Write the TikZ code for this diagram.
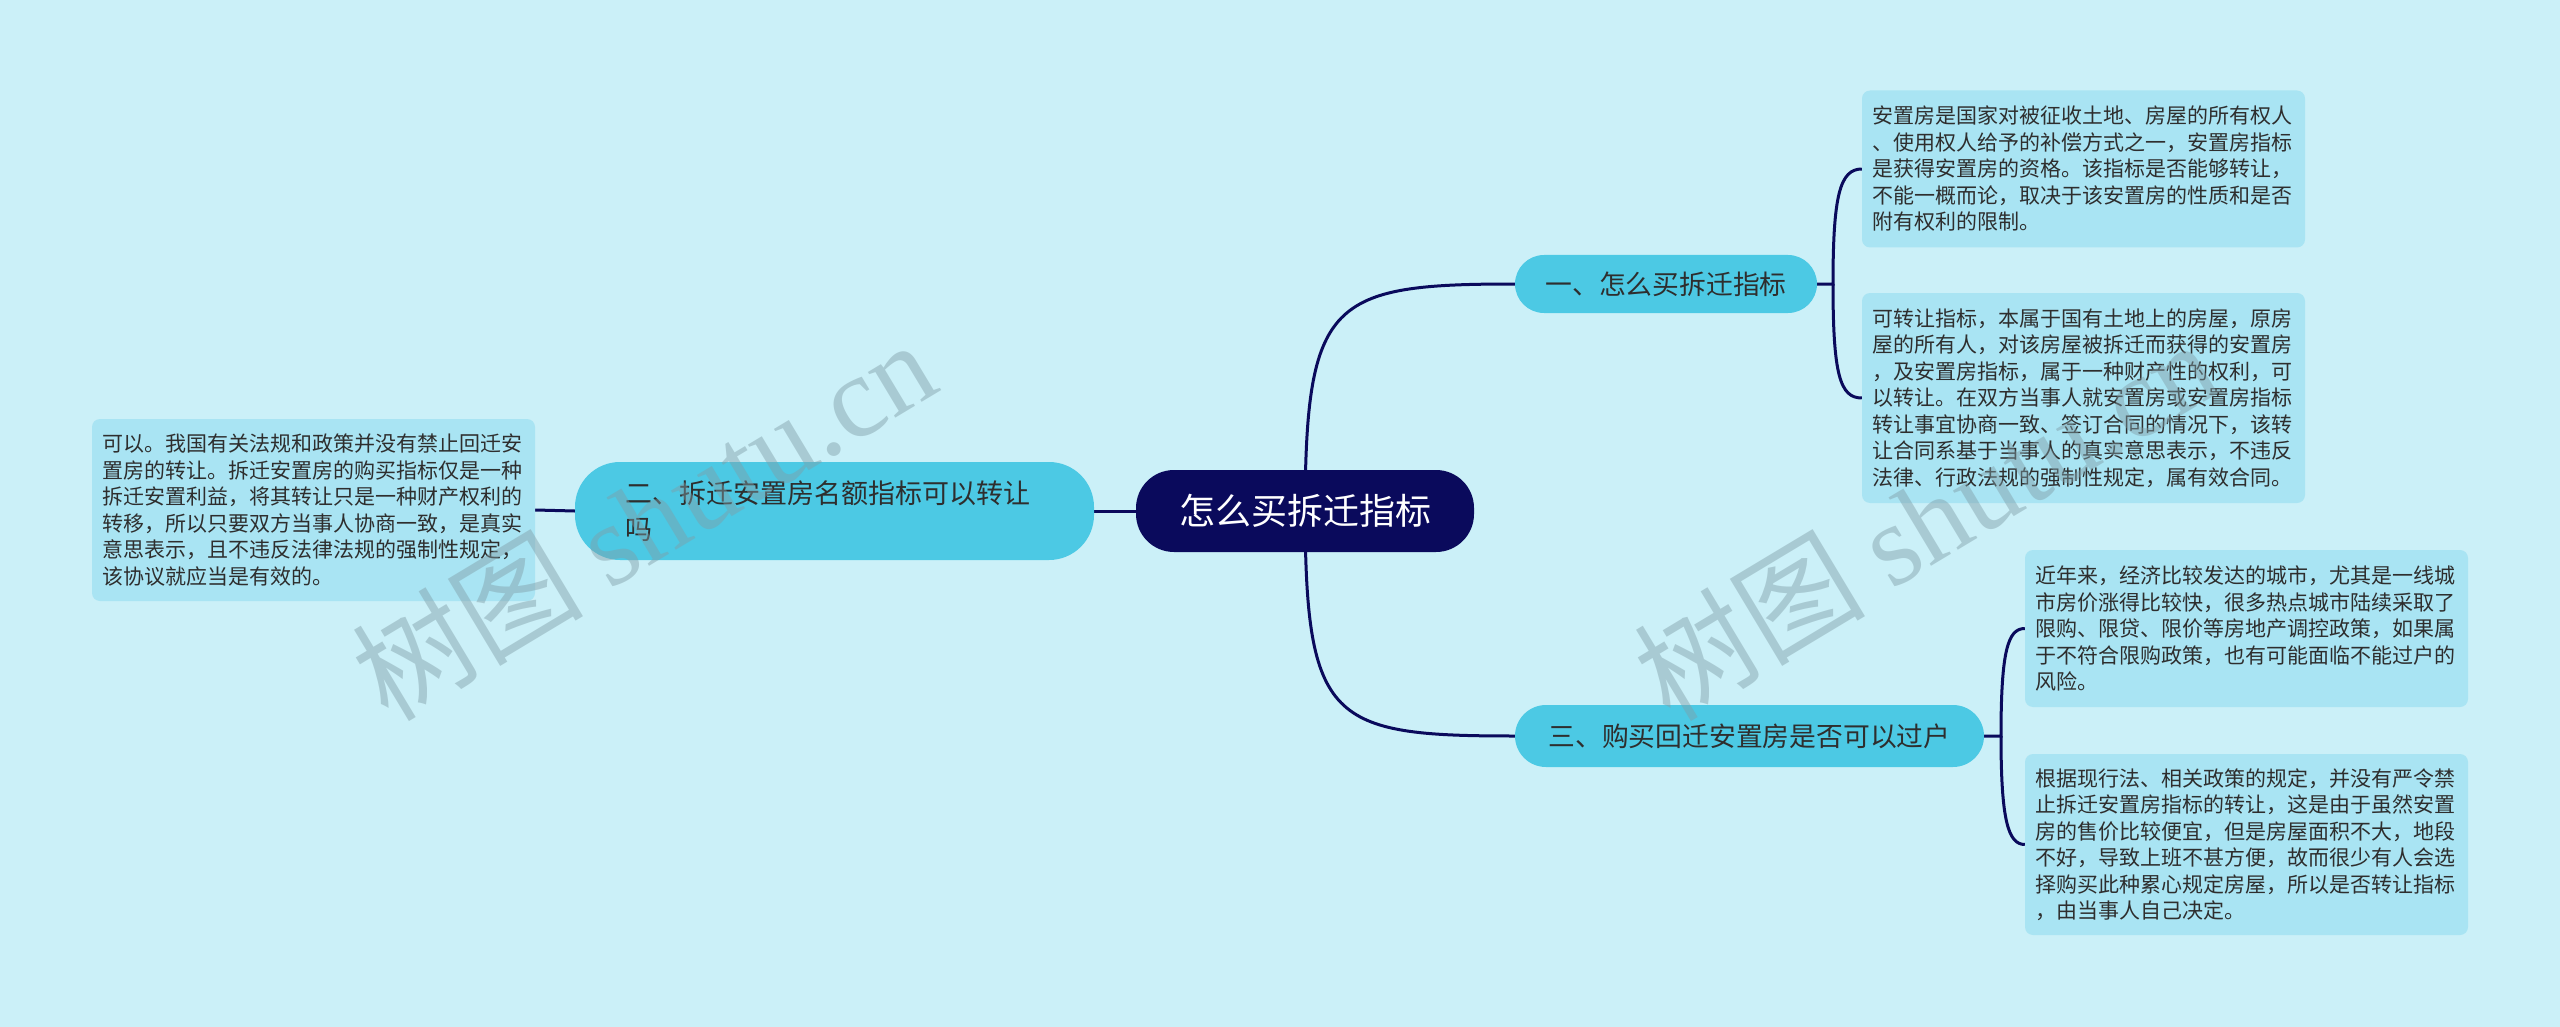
\documentclass[tikz,border=0pt]{standalone}
\usepackage{fontspec}
\setmainfont{Noto Sans CJK SC}
\newfontfamily\wmserif{Liberation Serif}
\usetikzlibrary{backgrounds}
\definecolor{bgc}{HTML}{CBF0F8}
\definecolor{branchc}{HTML}{4CC9E4}
\definecolor{leafc}{HTML}{A9E4F3}
\definecolor{navyc}{HTML}{0A0A5C}
\definecolor{txtc}{HTML}{2E2E2E}
\definecolor{wmc}{HTML}{7F9DA6}
\tikzset{
  rootbox/.style={fill=navyc, rounded corners=38pt, minimum width=338pt, minimum height=82pt,
    text=white, font=\fontsize{36pt}{42pt}\selectfont, inner sep=0pt},
  branchbox/.style={fill=branchc, rounded corners=29pt, minimum height=58pt,
    text=txtc, font=\fontsize{26.8pt}{32pt}\selectfont, inner sep=0pt},
  leafbox/.style={fill=leafc, rounded corners=8pt, text width=422pt, inner xsep=10.5pt, inner ysep=0pt,
    align=left, text=txtc, font=\fontsize{21pt}{26.5pt}\selectfont},
  conn/.style={draw=navyc, line width=3pt},
  wmark/.style={text=wmc, opacity=0.45, rotate=31, font=\fontsize{116pt}{120pt}\selectfont, inner sep=0pt}
}
\begin{document}
\begin{tikzpicture}[x=1pt,y=-1pt]
\useasboundingbox (0,0) rectangle (2560,1027);

\node[rootbox] (root) at (1305,511) {怎么买拆迁指标};
\node[branchbox, minimum width=302pt] (b1) at (1666,284) {一、怎么买拆迁指标};
\node[branchbox, minimum width=469pt, minimum height=62pt, rounded corners=31pt] (b3) at (1749.5,736) {三、购买回迁安置房是否可以过户};
\node[branchbox, minimum width=519pt, minimum height=98pt, rounded corners=45pt, text width=419pt, align=left,
  font=\fontsize{27pt}{36pt}\selectfont] (b2) at (834.5,511) {二、拆迁安置房名额指标可以转让\\吗};

\node[leafbox, minimum height=157pt] (l1) at (2083.5,169) {安置房是国家对被征收土地、房屋的所有权人\\、使用权人给予的补偿方式之一，安置房指标\\是获得安置房的资格。该指标是否能够转让，\\不能一概而论，取决于该安置房的性质和是否\\附有权利的限制。};
\node[leafbox, minimum height=210pt] (l2) at (2083.5,398) {可转让指标，本属于国有土地上的房屋，原房\\屋的所有人，对该房屋被拆迁而获得的安置房\\，及安置房指标，属于一种财产性的权利，可\\以转让。在双方当事人就安置房或安置房指标\\转让事宜协商一致、签订合同的情况下，该转\\让合同系基于当事人的真实意思表示，不违反\\法律、行政法规的强制性规定，属有效合同。};
\node[leafbox, minimum height=157pt] (l3) at (2246.5,628.5) {近年来，经济比较发达的城市，尤其是一线城\\市房价涨得比较快，很多热点城市陆续采取了\\限购、限贷、限价等房地产调控政策，如果属\\于不符合限购政策，也有可能面临不能过户的\\风险。};
\node[leafbox, minimum height=181pt] (l4) at (2246.5,844.5) {根据现行法、相关政策的规定，并没有严令禁\\止拆迁安置房指标的转让，这是由于虽然安置\\房的售价比较便宜，但是房屋面积不大，地段\\不好，导致上班不甚方便，故而很少有人会选\\择购买此种累心规定房屋，所以是否转让指标\\，由当事人自己决定。};
\node[leafbox, minimum height=182pt] (l5) at (313.5,510) {可以。我国有关法规和政策并没有禁止回迁安\\置房的转让。拆迁安置房的购买指标仅是一种\\拆迁安置利益，将其转让只是一种财产权利的\\转移，所以只要双方当事人协商一致，是真实\\意思表示，且不违反法律法规的强制性规定，\\该协议就应当是有效的。};

\begin{scope}[on background layer]
\fill[bgc] (0,0) rectangle (2560,1027);
\draw[conn] (root.center) .. controls (1306,300) and (1330,284) .. (b1.west);
\draw[conn] (root.center) .. controls (1306,722) and (1330,736) .. (b3.west);
\draw[conn] (root.west) -- (b2.east);
\draw[conn] (b2.west) -- (l5.east);
\coordinate (k1) at (1833,284);
\draw[conn] (b1.east) -- (k1) .. controls (1833,195) and (1840,169) .. (l1.west);
\draw[conn] (k1) .. controls (1833,375) and (1840,398) .. (l2.west);
\coordinate (k3) at (2001,736);
\draw[conn] (b3.east) -- (k3) .. controls (2001,650) and (2008,628.5) .. (l3.west);
\draw[conn] (k3) .. controls (2001,820) and (2008,844.5) .. (l4.west);
\end{scope}

\node[wmark] (wm1) at (643,519) {树图 {\wmserif shutu.cn}};
\node[wmark] (wm2) at (1925,519) {树图 {\wmserif shutu.cn}};
\end{tikzpicture}
\end{document}
